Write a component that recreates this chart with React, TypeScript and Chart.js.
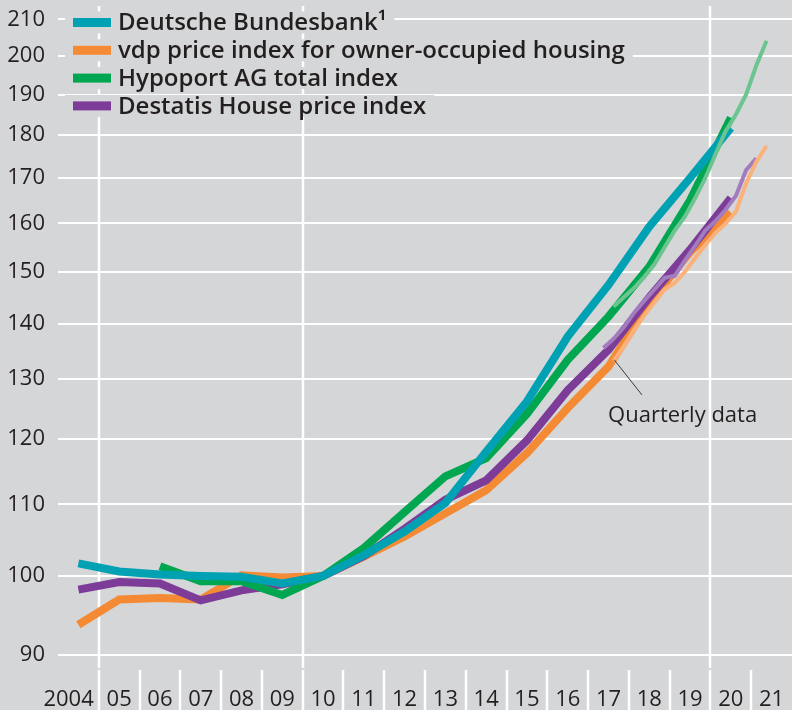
import React, { useEffect, useRef } from "react";
import { Chart, registerables } from "chart.js";

Chart.register(...registerables);

// ---------- data ----------
const YEARS = [2004, 2005, 2006, 2007, 2008, 2009, 2010, 2011, 2012, 2013, 2014, 2015, 2016, 2017, 2018, 2019, 2020];

const BUNDESBANK = [101.7, 100.6, 100.2, 100.0, 99.9, 99.0, 100, 102.8, 106.1, 110.2, 118.0, 126.2, 137.6, 147.4, 159.3, 170.0, 181.7];
const VDP = [93.7, 96.9, 97.1, 96.9, 100.1, 99.8, 100, 102.6, 105.4, 108.7, 112.1, 117.8, 125.1, 132.2, 143.9, 154.0, 162.3];
const HYPOPORT = [null, null, 101.3, 99.3, 99.3, 97.5, 100, 103.8, 108.9, 114.2, 117.0, 124.1, 133.4, 141.3, 151.0, 165.0, 184.2];
const DESTATIS = [98.2, 99.2, 99.0, 96.8, 98.1, 98.9, 100, 102.7, 106.5, 110.7, 113.6, 119.8, 128.1, 135.2, 145.0, 154.5, 165.5];

const QUARTERS = [
  "2017 Q2", "2017 Q3", "2017 Q4",
  "2018 Q1", "2018 Q2", "2018 Q3", "2018 Q4",
  "2019 Q1", "2019 Q2", "2019 Q3", "2019 Q4",
  "2020 Q1", "2020 Q2", "2020 Q3", "2020 Q4",
  "2021 Q1", "2021 Q2",
];
const VDP_Q = [null, 133.2, 135.8, 138.8, 141.5, 144.0, 146.5, 147.8, 150.0, 152.8, 155.5, 158.0, 160.0, 162.5, 168.8, 173.7, 177.4];
const HYPOPORT_Q = [null, 143.2, 145.0, 146.8, 149.0, 151.5, 155.0, 158.5, 161.5, 165.5, 170.0, 175.5, 181.0, 185.0, 190.0, 197.5, 204.1];
const DESTATIS_Q = [135.5, 137.2, 139.3, 142.0, 144.3, 146.5, 148.8, 149.2, 152.3, 155.3, 158.5, 160.5, 163.0, 166.0, 171.8, 174.5, null];

const SERIES_LABELS = [
  "Deutsche Bundesbank\u00B9",
  "vdp price index for owner-occupied housing",
  "Hypoport AG total index",
  "Destatis House price index",
];

const X_LABELS = ["2004", "05", "06", "07", "08", "09", "10", "11", "12", "13", "14", "15", "16", "17", "18", "19", "20", "21"];
const X_MIN = 2004;
const X_MAX = 2022;
const V_GRID_YEARS = [2005, 2010, 2020];

const Y_TICKS = [90, 100, 110, 120, 130, 140, 150, 160, 170, 180, 190, 200, 210];
const Y_MIN = 88.45;
const Y_MAX = 213.8;

const ANNOTATION_TEXT = "Quarterly data";
const ANNOTATION_POINT = { x: 2017.64, y: 133.4 };
const ANNOTATION_ELBOW = { x: 2018.32, y: 127.3 };
const ANNOTATION_LABEL = { x: 2017.49, y: 122.8 };

// ---------- style ----------
const BG = "#d5d6d8";
const TEXT = "#231f20";
const FONT = "'Open Sans', 'Noto Sans', sans-serif";
const TEAL = "#00a1b3";
const ORANGE = "#f58a34";
const GREEN = "#00a650";
const PURPLE = "#7d3c98";
const ORANGE_L = "#fbb27a";
const GREEN_L = "#6cc490";
const PURPLE_L = "#a37cc0";

const annual = (vals: (number | null)[]) => YEARS.map((yr, i) => ({ x: yr + 0.5, y: vals[i] }));
const quarterly = (vals: (number | null)[]) =>
  QUARTERS.map((q, i) => {
    const [yr, qq] = q.split(" Q").map(Number);
    return { x: yr + (qq - 0.5) / 4, y: vals[i] };
  });

const bgPlugin = {
  id: "bgFill",
  beforeDraw(chart: any) {
    const { ctx, width, height } = chart;
    ctx.save();
    ctx.fillStyle = BG;
    ctx.fillRect(0, 0, width, height);
    ctx.restore();
  },
};

const framePlugin = {
  id: "frameAndLegend",
  beforeDatasetsDraw(chart: any) {
    const { ctx, chartArea } = chart;
    const xs = chart.scales.x;
    ctx.save();
    ctx.strokeStyle = "#ffffff";
    ctx.lineWidth = 2.5;
    for (const yr of V_GRID_YEARS) {
      const px = Math.round(xs.getPixelForValue(yr));
      ctx.beginPath();
      ctx.moveTo(px, chartArea.top);
      ctx.lineTo(px, chartArea.bottom);
      ctx.stroke();
    }
    for (let i = 1; i < X_LABELS.length; i++) {
      const px = Math.round(xs.getPixelForValue(X_MIN + i));
      ctx.beginPath();
      ctx.moveTo(px, chartArea.bottom + 2);
      ctx.lineTo(px, chart.height);
      ctx.stroke();
    }
    // x labels
    ctx.fillStyle = TEXT;
    ctx.font = `22px ${FONT}`;
    ctx.textBaseline = "alphabetic";
    X_LABELS.forEach((lab, i) => {
      const yr = X_MIN + i;
      if (i === 0) {
        ctx.textAlign = "right";
        ctx.fillText(lab, xs.getPixelForValue(yr + 1) - 5, chart.height - 4);
      } else {
        ctx.textAlign = "center";
        ctx.fillText(lab, xs.getPixelForValue(yr + 0.5), chart.height - 4);
      }
    });
    // legend
    ctx.font = `600 24px ${FONT}`;
    ctx.textAlign = "left";
    ctx.textBaseline = "middle";
    chart.data.datasets.forEach((ds: any) => {
      if (!ds.legend) return;
      const cy = 22.5 + ds.legendRow * 27.8;
      const tw = ctx.measureText(ds.label).width;
      ctx.fillStyle = BG;
      ctx.fillRect(65, cy - 11, 118 + tw + 8 - 65, 22);
      ctx.fillStyle = ds.borderColor;
      ctx.fillRect(73, cy - 4.5, 38, 9);
      ctx.fillStyle = TEXT;
      ctx.fillText(ds.label, 118, cy + 1);
    });
    ctx.restore();
  },
  afterDatasetsDraw(chart: any) {
    const { ctx } = chart;
    const xs = chart.scales.x;
    const ys = chart.scales.y;
    ctx.save();
    ctx.strokeStyle = "#3a3a3a";
    ctx.lineWidth = 1;
    ctx.beginPath();
    ctx.moveTo(xs.getPixelForValue(ANNOTATION_POINT.x), ys.getPixelForValue(ANNOTATION_POINT.y));
    ctx.lineTo(xs.getPixelForValue(ANNOTATION_ELBOW.x), ys.getPixelForValue(ANNOTATION_ELBOW.y));
    ctx.stroke();
    ctx.fillStyle = TEXT;
    ctx.font = `22px ${FONT}`;
    ctx.textAlign = "left";
    ctx.textBaseline = "alphabetic";
    ctx.fillText(ANNOTATION_TEXT, xs.getPixelForValue(ANNOTATION_LABEL.x), ys.getPixelForValue(ANNOTATION_LABEL.y));
    ctx.restore();
  },
};

export default function App() {
  const ref = useRef<HTMLCanvasElement | null>(null);

  useEffect(() => {
    document.body.style.margin = "0";
    const canvas = ref.current;
    if (!canvas) return;
    const lineBase = { pointRadius: 0, pointHoverRadius: 0, tension: 0, borderCapStyle: "butt", borderJoinStyle: "miter", fill: false, spanGaps: false };
    const chart = new Chart(canvas, {
      type: "line",
      data: {
        datasets: [
          { ...lineBase, label: "vdp quarterly", data: quarterly(VDP_Q), borderColor: ORANGE_L, borderWidth: 4, order: 1 },
          { ...lineBase, label: "Hypoport quarterly", data: quarterly(HYPOPORT_Q), borderColor: GREEN_L, borderWidth: 4, order: 1 },
          { ...lineBase, label: "Destatis quarterly", data: quarterly(DESTATIS_Q), borderColor: PURPLE_L, borderWidth: 4, order: 1 },
          { ...lineBase, label: SERIES_LABELS[0], data: annual(BUNDESBANK), borderColor: TEAL, borderWidth: 8, order: 2, legend: true, legendRow: 0 },
          { ...lineBase, label: SERIES_LABELS[2], data: annual(HYPOPORT), borderColor: GREEN, borderWidth: 8, order: 3, legend: true, legendRow: 2 },
          { ...lineBase, label: SERIES_LABELS[3], data: annual(DESTATIS), borderColor: PURPLE, borderWidth: 8, order: 4, legend: true, legendRow: 3 },
          { ...lineBase, label: SERIES_LABELS[1], data: annual(VDP), borderColor: ORANGE, borderWidth: 8, order: 5, legend: true, legendRow: 1 },
        ] as any,
      },
      options: {
        animation: false,
        responsive: false,
        devicePixelRatio: 1,
        layout: { padding: { top: 6, left: 0, right: 0, bottom: 0 } },
        plugins: { legend: { display: false }, tooltip: { enabled: false } },
        events: [],
        scales: {
          x: {
            type: "linear",
            min: X_MIN,
            max: X_MAX,
            grid: { display: false },
            border: { display: false },
            ticks: { display: false },
            afterFit(scale: any) {
              scale.height = 42;
              scale.paddingLeft = 0;
              scale.paddingRight = 0;
            },
          },
          y: {
            type: "logarithmic",
            min: Y_MIN,
            max: Y_MAX,
            afterBuildTicks(scale: any) {
              scale.ticks = Y_TICKS.map((v) => ({ value: v }));
            },
            grid: { color: "#ffffff", lineWidth: 2, drawTicks: false },
            border: { display: false },
            ticks: {
              autoSkip: false,
              padding: 13,
              color: TEXT,
              font: { family: FONT, size: 22 },
              callback: (v: any) => String(v),
            },
            afterFit(scale: any) {
              scale.width = 58;
              scale.paddingTop = 0;
              scale.paddingBottom = 0;
            },
          },
        },
      } as any,
      plugins: [bgPlugin, framePlugin],
    });
    return () => chart.destroy();
  }, []);

  return (
    <div style={{ width: 792, height: 710 }}>
      <canvas ref={ref} width={792} height={710} style={{ display: "block", width: 792, height: 710 }} />
    </div>
  );
}
